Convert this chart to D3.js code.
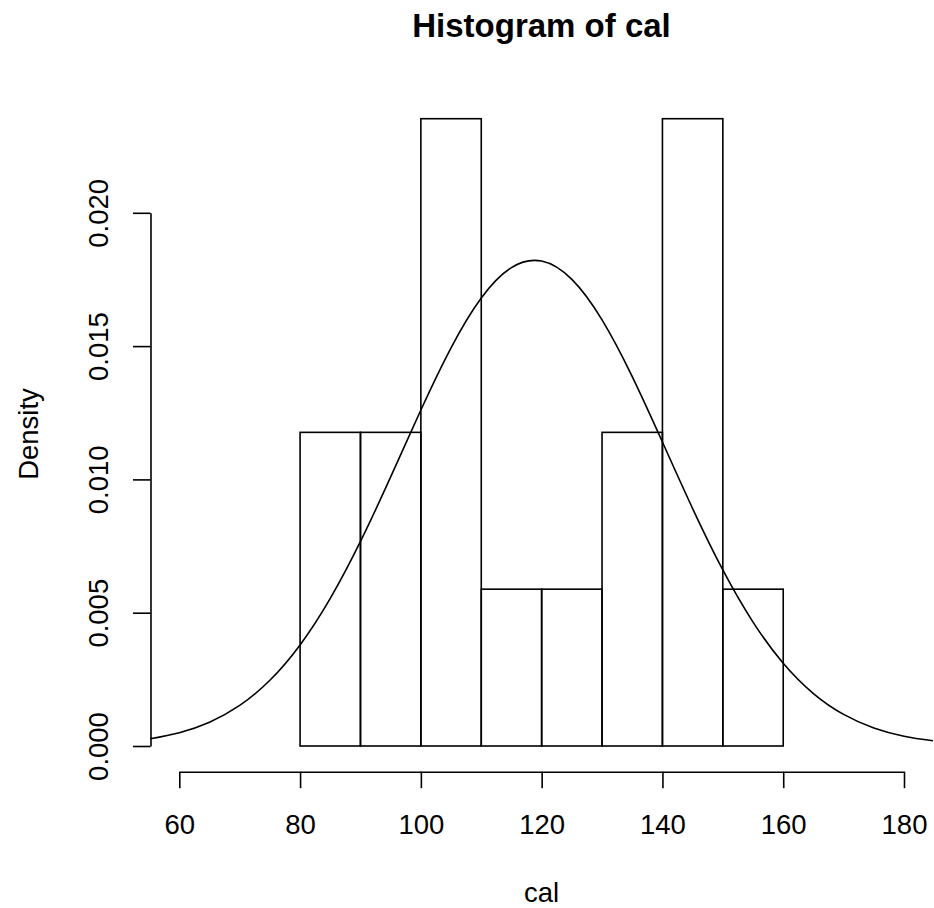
<!DOCTYPE html>
<html>
<head>
<meta charset="utf-8">
<script src="https://cdn.jsdelivr.net/npm/d3@7"></script>
<style>
  body { margin: 0; background: #fff; }
  svg text { font-family: "Liberation Sans", Arial, Helvetica, sans-serif; fill: #000; }
</style>
</head>
<body>
<div id="hist"></div>
<script>
// histogram of cal : break points and counts per bin (n = 17)
var breaks = [80, 90, 100, 110, 120, 130, 140, 150, 160];
var counts = [2, 2, 4, 1, 1, 2, 4, 1];

// normal density curve drawn on top
var curveX = [55.2, 60, 65, 70, 75, 80, 85, 90, 95, 100, 105, 110, 115, 120,
              125, 130, 135, 140, 145, 150, 155, 160, 165, 170, 175, 180, 184.8];
var curveY = [0.000269, 0.000495, 0.000891, 0.001521, 0.002465, 0.003791, 0.005536,
              0.007673, 0.010092, 0.012602, 0.014936, 0.016803, 0.017945, 0.018190,
              0.017501, 0.015984, 0.013856, 0.011402, 0.008906, 0.006602, 0.004647,
              0.003104, 0.001968, 0.001185, 0.000677, 0.000367, 0.000194];

var xTicks = [60, 80, 100, 120, 140, 160, 180];
var yTicks = [0, 0.005, 0.010, 0.015, 0.020];

var width = 934, height = 908;
var lw = 1.6;

var svg = d3.select("#hist").append("svg")
    .attr("width", width)
    .attr("height", height);

var xScale = d3.scaleLinear().domain([60, 180]).range([179.3, 904]);
var yScale = d3.scaleLinear().domain([0, 0.020]).range([746, 212.8]);

var n = d3.sum(counts);
var bins = counts.map(function (c, i) {
    return { x0: breaks[i], x1: breaks[i + 1], density: c / (n * (breaks[i + 1] - breaks[i])) };
});

// bars
svg.append("g").selectAll("rect")
    .data(bins)
    .enter().append("rect")
    .attr("x", function (d) { return xScale(d.x0); })
    .attr("width", function (d) { return xScale(d.x1) - xScale(d.x0); })
    .attr("y", function (d) { return yScale(d.density); })
    .attr("height", function (d) { return yScale(0) - yScale(d.density); })
    .attr("fill", "none")
    .attr("stroke", "#000")
    .attr("stroke-width", lw);

// density curve
var line = d3.line()
    .x(function (d) { return xScale(d[0]); })
    .y(function (d) { return yScale(d[1]); })
    .curve(d3.curveNatural);

svg.append("path")
    .datum(d3.zip(curveX, curveY))
    .attr("d", line)
    .attr("fill", "none")
    .attr("stroke", "#000")
    .attr("stroke-width", lw);

// x axis
var xAxis = svg.append("g")
    .attr("transform", "translate(0,771.7)")
    .call(d3.axisBottom(xScale).tickValues(xTicks).tickSize(16.5).tickSizeOuter(0)
        .tickFormat(d3.format("d")));
xAxis.selectAll("text")
    .attr("y", 62.3).attr("dy", 0)
    .style("font-size", "27.5px");

// y axis
var yAxis = svg.append("g")
    .attr("transform", "translate(150.5,0)")
    .call(d3.axisLeft(yScale).tickValues(yTicks).tickSize(17.5).tickSizeOuter(0)
        .tickFormat(d3.format(".3f")));
yAxis.selectAll("text")
    .attr("x", 0).attr("y", 0).attr("dy", 0)
    .attr("text-anchor", "middle")
    .attr("transform", "translate(-42.5,0) rotate(-90)")
    .style("font-size", "27.5px");

svg.selectAll(".domain, .tick line")
    .attr("stroke", "#000")
    .attr("stroke-width", lw);
svg.selectAll(".tick text").attr("fill", "#000").style("font-family", null);

// titles
svg.append("text")
    .attr("x", 541.5).attr("y", 36.7)
    .attr("text-anchor", "middle")
    .style("font-size", "33px")
    .style("font-weight", "bold")
    .text("Histogram of cal");

svg.append("text")
    .attr("x", 541.5).attr("y", 902)
    .attr("text-anchor", "middle")
    .style("font-size", "27.5px")
    .text("cal");

svg.append("text")
    .attr("transform", "translate(37.5,434) rotate(-90)")
    .attr("text-anchor", "middle")
    .style("font-size", "27.5px")
    .text("Density");
</script>
</body>
</html>
